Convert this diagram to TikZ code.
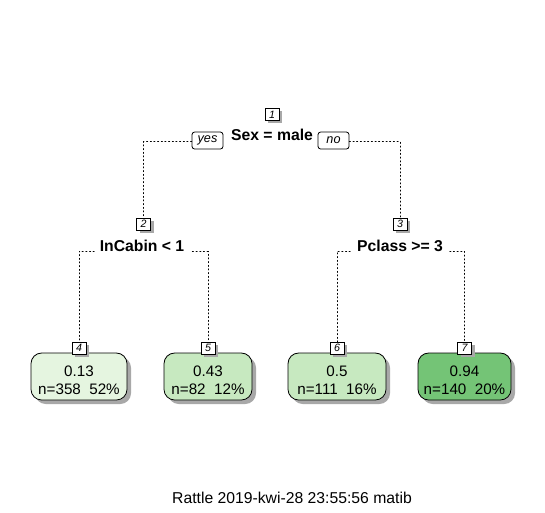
\documentclass[tikz,border=0pt]{standalone}
\usepackage{fontspec}
\setmainfont{Liberation Sans}
\usetikzlibrary{shadows}
\definecolor{leafA}{HTML}{E5F5E0}
\definecolor{leafB}{HTML}{C7E9C0}
\definecolor{leafC}{HTML}{74C476}
\definecolor{shad}{HTML}{A8A8A8}
\tikzset{
  num/.style={draw=black, fill=white, line width=0.6pt, inner sep=0pt,
    minimum width=14*0.75pt, minimum height=12*0.75pt,
    font=\fontsize{8}{8}\selectfont\itshape,
    general shadow={shadow xshift=2.5pt, shadow yshift=-2pt, fill=shad}},
  split/.style={font=\fontsize{11.8}{13}\selectfont\bfseries, inner sep=0pt},
  yn/.style={draw=black, fill=white, rounded corners=2pt, line width=0.6pt,
    inner sep=0pt, minimum width=31*0.75pt, minimum height=17*0.75pt,
    font=\fontsize{9.5}{10}\selectfont\itshape},
  leaf/.style={draw=black, line width=0.6pt, rounded corners=8pt,
    minimum height=47*0.75pt, inner sep=0pt,
    general shadow={shadow xshift=3pt, shadow yshift=-3pt, fill=shad}},
  leaftext/.style={align=center, inner sep=0pt, font=\fontsize{11.4}{13.5}\selectfont},
  conn/.style={dotted, line width=0.75pt, line cap=round}
}
\begin{document}
\begin{tikzpicture}[x=0.75pt,y=-0.75pt]
\useasboundingbox (0,0) rectangle (545,512);
% root
\node[num] (n1) at (272,114.5) {1};
\node[split] (l1) at (272,135) {Sex = male};
\node[yn] (yes) at (207.5,140.5) {yes};
\node[yn] (no) at (333.5,140.5) {no};
% level 2
\node[num] (n2) at (143.5,224) {2};
\node[split] (l2) at (142,245.5) {InCabin < 1};
\node[num] (n3) at (400,224) {3};
\node[split] (l3) at (400,245.5) {Pclass >= 3};
% leaves
\node[leaf, fill=leafA, minimum width=96*0.75pt] (f4) at (79,376.5) {};
\node[leaf, fill=leafB, minimum width=88*0.75pt] (f5) at (208,376.5) {};
\node[leaf, fill=leafB, minimum width=98*0.75pt] (f6) at (337,376.5) {};
\node[leaf, fill=leafC, minimum width=93*0.75pt] (f7) at (464.5,376.5) {};
\node[leaftext] (t4) at ([yshift=-2.6pt]f4.center) {0.13\\n=358\ \ 52\%};
\node[leaftext] (t5) at ([yshift=-2.6pt]f5.center) {0.43\\n=82\ \ 12\%};
\node[leaftext] (t6) at ([yshift=-2.6pt]f6.center) {0.5\\n=111\ \ 16\%};
\node[leaftext] (t7) at ([yshift=-2.6pt]f7.center) {0.94\\n=140\ \ 20\%};
\node[num] (n4) at (79,348) {4};
\node[num] (n5) at (208,348) {5};
\node[num] (n6) at (337,348) {6};
\node[num] (n7) at (464.5,348) {7};
% connectors
\draw[conn] ([yshift=-0.9pt]yes.west) -| (n2.north);
\draw[conn] ([yshift=-0.9pt]no.east) -| (n3.north);
\draw[conn] ([xshift=-4pt,yshift=-4.5pt]l2.west) -| (n4.north);
\draw[conn] ([xshift=6pt,yshift=-4.5pt]l2.east) -| (n5.north);
\draw[conn] ([xshift=-5pt,yshift=-4.5pt]l3.west) -| (n6.north);
\draw[conn] ([xshift=5pt,yshift=-4.5pt]l3.east) -| (n7.north);
% caption
\node[font=\fontsize{11.8}{13}\selectfont, inner sep=0pt] (cap) at (292,498) {Rattle 2019-kwi-28 23:55:56 matib};
\end{tikzpicture}
\end{document}
